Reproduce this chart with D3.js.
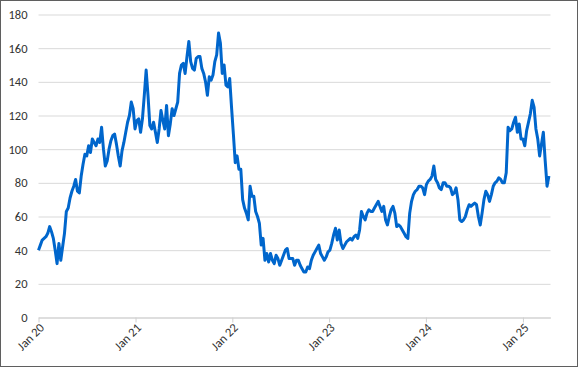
<!DOCTYPE html>
<html lang="en">
<head>
  <meta charset="UTF-8">
  <title>Weekly series 2020-2025</title>
  <style>
    body { margin: 0; background: #fff; }
    text { font-family: Carlito, Calibri, Lato, "Open Sans", sans-serif; font-size: 12px; fill: #333; }
  </style>
</head>
<body>
  <div id="chart"></div>

  <script src="https://d3js.org/d3.v7.min.js"></script>
  <script>

    // weekly readings, first week starting 1 Jan 2020
    const startDate = new Date(2020, 0, 1);
    const values = [
      40, 43, 46, 47, 48, 50, 54, 51, 47, 40, 32, 44, 34, 42, 50, 63, 65, 71, 75, 78,
      82, 75, 74, 84, 91, 97, 96, 102, 98, 106, 104, 102, 106, 104, 113, 100, 90, 93, 100, 105,
      108, 109, 103, 96, 90, 99, 104, 110, 116, 120, 128, 124, 112, 117, 118, 110, 118, 132, 147, 132,
      114, 112, 116, 110, 104, 112, 123, 117, 112, 126, 108, 115, 124, 120, 124, 128, 145, 150, 151, 145,
      155, 164, 152, 148, 147, 154, 155, 155, 148, 145, 140, 132, 143, 141, 144, 152, 156, 169, 163, 145,
      150, 138, 137, 142, 125, 109, 92, 96, 88, 88, 70, 65, 62, 58, 78, 72, 72, 63, 60, 56,
      43, 47, 34, 38, 33, 38, 34, 32, 37, 35, 31, 34, 37, 40, 41, 35, 35, 35, 31, 34,
      34, 31, 29, 27, 27, 30, 29, 34, 37, 39, 41, 43, 38, 36, 34, 36, 39, 40, 44, 49,
      53, 46, 52, 44, 41, 43, 45, 46, 47, 46, 48, 49, 47, 52, 63, 60, 58, 62, 64, 63,
      63, 65, 67, 69, 66, 63, 66, 58, 55, 60, 64, 66, 62, 54, 55, 54, 52, 50, 48, 47,
      62, 69, 73, 75, 76, 78, 78, 77, 73, 79, 81, 82, 84, 90, 82, 80, 77, 76, 80, 80,
      78, 78, 77, 73, 74, 77, 70, 58, 57, 58, 60, 64, 67, 66, 67, 68, 67, 60, 55, 62,
      70, 75, 73, 69, 73, 78, 80, 81, 83, 82, 80, 80, 86, 113, 111, 112, 116, 119, 110, 115,
      106, 106, 102, 111, 116, 121, 129, 125, 112, 106, 96, 103, 110, 93, 78, 84
    ];

    const yTicks = [0, 20, 40, 60, 80, 100, 120, 140, 160, 180];
    const xTickYears = [2020, 2021, 2022, 2023, 2024, 2025];
    const xTickLabels = ["Jan 20", "Jan 21", "Jan 22", "Jan 23", "Jan 24", "Jan 25"];

    const data = values.map((v, i) => ({date: d3.timeDay.offset(startDate, i * 7), value: v}));

    const width = 578,
          height = 367,
          margin = {top: 14.5, right: 27.5, bottom: 49.5, left: 38.5};

    const svg = d3.select("#chart")
      .append("svg")
      .attr("width", width)
      .attr("height", height);

    // outer frame
    svg.append("rect")
      .attr("x", 0.5)
      .attr("y", 0.5)
      .attr("width", width - 1)
      .attr("height", height - 1)
      .attr("fill", "#fff")
      .attr("stroke", "#5f5f5f");

    let x = d3.scaleTime([startDate, new Date(2025, 3, 15)], [margin.left, width - margin.right]);
    let y = d3.scaleLinear([0, 180], [height - margin.bottom, margin.top]);

    // horizontal gridlines + y labels
    const yAxis = svg.append("g")
      .attr("transform", `translate(${margin.left},0)`)
      .call(d3.axisLeft(y).tickValues(yTicks).tickSize(-(width - margin.left - margin.right)).tickPadding(11));
    yAxis.select(".domain").remove();
    yAxis.selectAll(".tick line").attr("stroke", "#d9d9d9");
    yAxis.selectAll(".tick text").attr("fill", "#333").style("font-size", "12.5px");

    // bottom axis with year ticks
    const xAxis = svg.append("g")
      .attr("transform", `translate(0,${height - margin.bottom})`)
      .call(d3.axisBottom(x)
        .tickValues(xTickYears.map(yr => new Date(yr, 0, 1)))
        .tickSize(5)
        .tickSizeOuter(0)
        .tickFormat((d, i) => xTickLabels[i]));
    xAxis.select(".domain").attr("stroke", "#d0d0d0");
    xAxis.selectAll(".tick line").attr("stroke", "#d0d0d0");
    xAxis.selectAll(".tick text")
      .attr("fill", "#333")
      .style("font-size", "12.5px")
      .attr("text-anchor", "end")
      .attr("dy", null)
      .attr("y", 0)
      .attr("transform", "translate(6,11) rotate(-45)");

    const line = d3.line()
      .x(d => x(d.date))
      .y(d => y(d.value));

    svg.append("path")
      .datum(data)
      .attr("fill", "none")
      .attr("stroke", "#0066cc")
      .attr("stroke-width", 3)
      .attr("stroke-linejoin", "round")
      .attr("d", line);

  </script>
</body>
</html>
